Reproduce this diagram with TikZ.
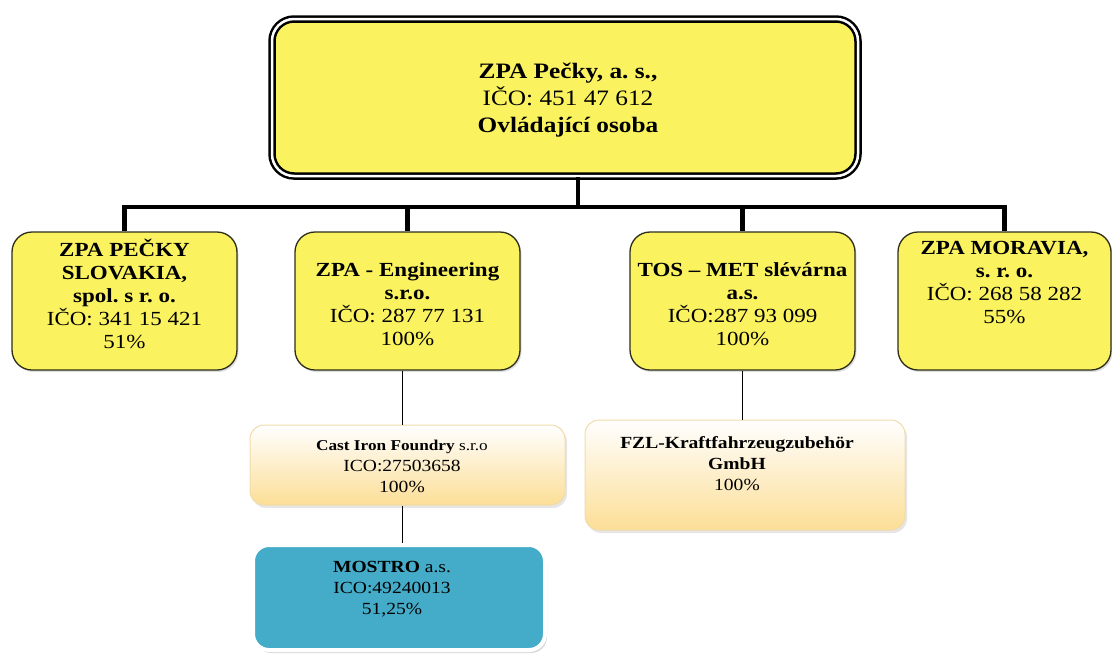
\documentclass[tikz,border=0pt]{standalone}
\usepackage{fontspec}
\setmainfont[FakeStretch=1.15]{Liberation Serif}
\usetikzlibrary{shadows}
\definecolor{zyellow}{RGB}{250,243,95}
\definecolor{zteal}{RGB}{68,172,200}
\definecolor{zorange}{RGB}{252,222,150}
\definecolor{zcream}{RGB}{240,220,170}
\definecolor{zdark}{RGB}{45,45,25}
\frenchspacing
\begin{document}
\begin{tikzpicture}[x=1pt,y=-1pt,
  topbox/.style={draw=black, line width=2.5pt, double=white, double distance=2.5pt,
    fill=zyellow, rounded corners=22pt, minimum width=586pt, minimum height=157pt, inner sep=0pt,
    drop shadow={opacity=0.25, shadow xshift=1pt, shadow yshift=-1.5pt}},
  subbox/.style={draw=zdark, line width=1.3pt, fill=zyellow, rounded corners=20pt,
    minimum width=225pt, minimum height=138pt, inner sep=0pt,
    drop shadow={opacity=0.25, shadow xshift=1.5pt, shadow yshift=-2pt}},
  lowbox/.style={draw=zcream, line width=1pt, top color=white, bottom color=zorange,
    rounded corners=14pt, inner sep=0pt,
    drop shadow={opacity=0.2, shadow xshift=2pt, shadow yshift=-3pt}},
  tealbox/.style={draw=white, line width=4pt, fill=zteal, rounded corners=16pt, inner sep=0pt,
    drop shadow={opacity=0.3, shadow xshift=2pt, shadow yshift=-3pt}},
  txtbig/.style={align=center, inner sep=0pt, font=\fontsize{22}{27}\selectfont},
  txtmid/.style={align=center, inner sep=0pt, font=\fontsize{20}{23}\selectfont},
  txtlow/.style={align=center, inner sep=0pt, font=\fontsize{17}{21}\selectfont},
  bar/.style={line width=4.5pt, black},
  thin/.style={line width=1.3pt, black}
]
\useasboundingbox (0,0) rectangle (1112,657);
% top
\node[topbox] (top) at (565,97.5) {};
\node[txtbig] (toptxt) at (568,100) {\textbf{ZPA Pečky, a. s.,}\\IČO: 451 47 612\\\textbf{Ovládající osoba}};
% level 2 boxes
\node[subbox] (b1) at (124.5,301) {};
\node[subbox] (b2) at (407.5,301) {};
\node[subbox] (b3) at (742.5,301) {};
\node[subbox, minimum width=213pt] (b4) at (1004.5,301) {};
\node[txtmid] (t1) at (124.5,294) {\textbf{ZPA PEČKY}\\\textbf{SLOVAKIA,}\\\textbf{spol. s r. o.}\\IČO: 341 15 421\\51\%};
\node[txtmid] (t2) at (407.5,304) {\textbf{ZPA - Engineering}\\\textbf{s.r.o.}\\IČO: 287 77 131\\100\%};
\node[txtmid] (t3) at (742.5,304) {\textbf{TOS – MET slévárna}\\\textbf{a.s.}\\IČO:287 93 099\\100\%};
\node[txtmid] (t4) at (1004.5,283) {\textbf{ZPA MORAVIA,}\\\textbf{s. r. o.}\\IČO: 268 58 282\\55\%};
% level 3
\node[lowbox, minimum width=315pt, minimum height=80pt] (cast) at (407.5,465) {};
\node[txtlow] (tcast) at (402,466) {{\fontsize{15}{21}\selectfont\textbf{Cast Iron Foundry} s.r.o}\\ICO:27503658\\100\%};
\node[lowbox, minimum width=320pt, minimum height=110pt] (fzl) at (745,475) {};
\node[txtlow] (tfzl) at (737,464) {\textbf{FZL-Kraftfahrzeugzubehör}\\\textbf{GmbH}\\100\%};
\node[tealbox, minimum width=292pt, minimum height=105pt] (mostro) at (399,597.5) {};
\node[txtlow] (tmostro) at (392,589) {\textbf{MOSTRO} a.s.\\ICO:49240013\\51,25\%};
% connectors
\coordinate (bus) at (578,207);
\draw[bar] ([xshift=13pt]top.south) -- (bus);
\draw[bar] (b1.north) -- (b1.north |- bus) -- (b4.north |- bus) -- (b4.north);
\draw[bar] (b2.north |- bus) -- (b2.north);
\draw[bar] (b3.north |- bus) -- (b3.north);
\draw[thin] ([xshift=-5pt]b2.south) -- ([xshift=-5pt]b2.south |- cast.north);
\draw[thin] ([xshift=-5pt]b2.south |- cast.south) -- ([xshift=-5pt]b2.south |- mostro.north);
\draw[thin] (b3.south) -- (b3.south |- fzl.north);
\end{tikzpicture}
\end{document}
